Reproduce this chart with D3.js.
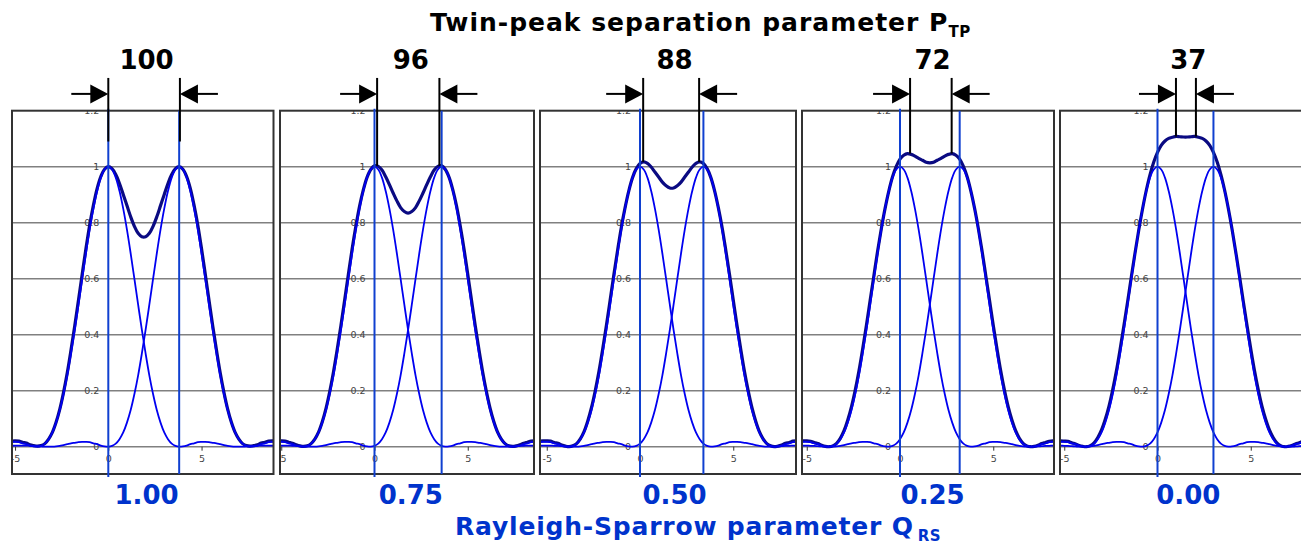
<!DOCTYPE html>
<html><head><meta charset="utf-8">
<script src="https://cdn.jsdelivr.net/npm/d3@7"></script>
<style>body{margin:0;background:#fff}svg{display:block}</style>
</head><body><svg id="c" width="1301" height="545"></svg>
<script>
// ---------- data ----------
const qLabels = ["1.00","0.75","0.50","0.25","0.00"];
const ptpLabels = ["100","96","88","72","37"];
const peakSeparation = [3.8, 3.6, 3.4, 3.2, 3.0];
const sumPeakLeft  = [0.00, 0.14, 0.17, 0.54, 0.99];
const sumPeakRight = [3.84, 3.48, 3.17, 2.77, 2.06];
const sumPeakLevel = [1.09, 1.003, 1.017, 1.047, 1.108];
const yTicks = [0, 0.2, 0.4, 0.6, 0.8, 1, 1.2];
const yTickLabels = ["0","0.2","0.4","0.6","0.8","1","1.2"];
const xTicks = [-5, 0, 5];
const xTickLabels = ["-5","0","5"];

// single-peak profile (offset from centre, intensity)
const profileOffset = [0,0.2,0.4,0.6,0.8,1.0,1.2,1.4,1.6,1.8,2.0,2.2,2.4,2.6,2.8,3.0,3.2,3.4,3.6,3.8,4.0,4.2,4.4,4.6,4.8,5.0,5.2,5.4,5.6,5.8,6.0,6.2,6.4,6.6,6.8,7.0,7.2,7.4,7.6,7.8,8.0,8.2,8.4,8.6,8.8,9.0,9.2];
const profileValue = [1.000,0.990,0.961,0.913,0.850,0.775,0.690,0.599,0.507,0.417,0.333,0.255,0.188,0.131,0.086,0.051,0.027,0.011,0.003,0.000,0.001,0.004,0.009,0.012,0.016,0.017,0.017,0.016,0.014,0.012,0.009,0.006,0.003,0.001,0.000,0.000,0.000,0.001,0.002,0.003,0.003,0.004,0.004,0.004,0.004,0.003,0.002];

// summed (twin-peak) curves
const sumX = [-5.4,-5.2,-5.0,-4.8,-4.6,-4.4,-4.2,-4.0,-3.8,-3.6,-3.4,-3.2,-3.0,-2.8,-2.6,-2.4,-2.2,-2.0,-1.8,-1.6,-1.4,-1.2,-1.0,-0.8,-0.6,-0.4,-0.2,0,0.2,0.4,0.6,0.8,1.0,1.2,1.4,1.6,1.8,2.0,2.2,2.4,2.6,2.8,3.0,3.2,3.4,3.6,3.8,4.0,4.2,4.4,4.6,4.8,5.0,5.2,5.4,5.6,5.8,6.0,6.2,6.4,6.6,6.8,7.0,7.2,7.4,7.6,7.8,8.0,8.2,8.4,8.6,8.8,9.0];
const sumQ100 = [0.018,0.020,0.021,0.020,0.016,0.013,0.007,0.004,0.002,0.004,0.011,0.027,0.051,0.087,0.134,0.194,0.264,0.345,0.431,0.523,0.616,0.707,0.791,0.862,0.922,0.965,0.991,1.000,0.993,0.972,0.940,0.901,0.861,0.821,0.787,0.762,0.750,0.750,0.762,0.787,0.821,0.861,0.901,0.940,0.972,0.993,1.000,0.991,0.965,0.922,0.862,0.791,0.707,0.616,0.523,0.431,0.345,0.264,0.194,0.134,0.087,0.051,0.027,0.011,0.004,0.002,0.004,0.007,0.013,0.016,0.020,0.021,0.020];
const sumQ075 = [0.019,0.021,0.021,0.020,0.016,0.012,0.007,0.003,0.001,0.003,0.011,0.027,0.052,0.089,0.137,0.197,0.267,0.347,0.433,0.524,0.616,0.706,0.787,0.859,0.917,0.962,0.990,1.003,1.001,0.988,0.964,0.936,0.906,0.878,0.854,0.840,0.834,0.840,0.854,0.878,0.906,0.936,0.964,0.988,1.001,1.003,0.990,0.962,0.917,0.859,0.787,0.706,0.616,0.524,0.433,0.347,0.267,0.197,0.137,0.089,0.052,0.027,0.011,0.003,0.001,0.003,0.007,0.012,0.016,0.020,0.021,0.021,0.019];
const sumQ050 = [0.020,0.021,0.021,0.020,0.015,0.012,0.006,0.002,0.000,0.003,0.011,0.028,0.054,0.092,0.140,0.200,0.269,0.349,0.434,0.524,0.615,0.702,0.784,0.854,0.914,0.961,0.993,1.011,1.017,1.012,0.999,0.981,0.963,0.945,0.932,0.924,0.924,0.932,0.945,0.963,0.981,0.999,1.012,1.017,1.011,0.993,0.961,0.914,0.854,0.784,0.702,0.615,0.524,0.434,0.349,0.269,0.200,0.140,0.092,0.054,0.028,0.011,0.003,0.000,0.002,0.006,0.012,0.015,0.020,0.021,0.021,0.020,0.017];
const sumQ025 = [0.020,0.021,0.021,0.019,0.015,0.011,0.005,0.001,0.000,0.003,0.012,0.030,0.057,0.095,0.143,0.202,0.271,0.350,0.434,0.523,0.611,0.699,0.779,0.851,0.913,0.964,1.001,1.027,1.041,1.047,1.044,1.038,1.030,1.023,1.016,1.014,1.016,1.023,1.030,1.038,1.044,1.047,1.041,1.027,1.001,0.964,0.913,0.851,0.779,0.699,0.611,0.523,0.434,0.350,0.271,0.202,0.143,0.095,0.057,0.030,0.012,0.003,0.000,0.001,0.005,0.011,0.015,0.019,0.021,0.021,0.020,0.018,0.015];
const sumQ000 = [0.020,0.021,0.020,0.019,0.014,0.010,0.004,0.001,0.000,0.004,0.014,0.033,0.060,0.098,0.145,0.204,0.272,0.350,0.433,0.519,0.608,0.694,0.776,0.850,0.916,0.972,1.017,1.051,1.076,1.092,1.101,1.105,1.108,1.107,1.106,1.106,1.107,1.108,1.105,1.101,1.092,1.076,1.051,1.017,0.972,0.916,0.850,0.776,0.694,0.608,0.519,0.433,0.350,0.272,0.204,0.145,0.098,0.060,0.033,0.014,0.004,0.000,0.001,0.004,0.010,0.014,0.019,0.020,0.021,0.020,0.018,0.016,0.012];
const sumSeries = [sumQ100, sumQ075, sumQ050, sumQ025, sumQ000];

// ---------- layout ----------
const panelLeft  = [12, 280, 540, 802, 1060];
const panelRight = [273.5, 534, 796, 1054, 1330];
const panelZero  = [108.3, 374.5, 640, 900, 1157.5];
const PX_PER_UNIT = 18.65;
const frameBottom = 474;
const markerTop = 1.317, arrowLevel = 1.26;

const svg = d3.select("#c");
const defs = svg.append("defs");
const yScale = d3.scaleLinear().domain([0, 1.2]).range([446.7, 110.7]);
const NAVY = "#0a0a82", BLUE = "#0000f0", VBLUE = "#1040d0", QBLUE = "#0033cc";
const FONT = "'DejaVu Sans', Verdana, sans-serif";

qLabels.forEach((q, i) => {
  const left = panelLeft[i], right = panelRight[i], zero = panelZero[i];
  const x = d3.scaleLinear()
    .domain([(left - zero) / PX_PER_UNIT, (right - zero) / PX_PER_UNIT])
    .range([left, right]);
  const top = yScale(1.2);
  const g = svg.append("g");
  defs.append("clipPath").attr("id", "clip" + i).append("rect")
    .attr("x", left).attr("y", top).attr("width", right - left).attr("height", frameBottom - top);
  const inner = g.append("g").attr("clip-path", `url(#clip${i})`);

  // grid lines
  inner.selectAll("line.grid").data(yTicks.filter(v => v < 1.2)).join("line")
    .attr("class", "grid")
    .attr("x1", left).attr("x2", right)
    .attr("y1", d => yScale(d)).attr("y2", d => yScale(d))
    .attr("stroke", "#808080").attr("stroke-width", 1.5);

  // y axis labels at x = 0
  const yAxis = d3.axisLeft(yScale).tickValues(yTicks)
    .tickFormat((d, k) => yTickLabels[k]).tickSize(0).tickPadding(9);
  const ya = inner.append("g").attr("transform", `translate(${x(0)},0)`).call(yAxis);
  ya.select(".domain").remove();
  ya.selectAll("text").attr("font-family", FONT).attr("font-size", 9.5).attr("fill", "#444");

  // x axis ticks on zero line
  const xAxis = d3.axisBottom(x).tickValues(xTicks)
    .tickFormat((d, k) => xTickLabels[k]).tickSize(4).tickPadding(5);
  const xa = inner.append("g").attr("transform", `translate(0,${yScale(0)})`).call(xAxis);
  xa.select(".domain").remove();
  xa.selectAll("line").attr("stroke", "#333").attr("stroke-width", 1);
  xa.selectAll("text").attr("font-family", FONT).attr("font-size", 9.5).attr("fill", "#444");

  const line = d3.line().x(d => x(d[0])).y(d => yScale(d[1]))
    .curve(d3.curveCatmullRom.alpha(0.5));

  // summed curve
  inner.append("path")
    .datum(sumX.map((v, k) => [v, sumSeries[i][k]]))
    .attr("d", line).attr("fill", "none")
    .attr("stroke", NAVY).attr("stroke-width", 3.2);

  // individual peaks
  [0, peakSeparation[i]].forEach(c => {
    const rightSide = profileOffset.map((o, k) => [c + o, profileValue[k]]);
    const leftSide = profileOffset.slice(1).map((o, k) => [c - o, profileValue[k + 1]]).reverse();
    inner.append("path").datum(leftSide.concat(rightSide))
      .attr("d", line).attr("fill", "none")
      .attr("stroke", BLUE).attr("stroke-width", 1.8);
  });

  // frame
  g.append("rect").attr("x", left).attr("y", top)
    .attr("width", right - left).attr("height", frameBottom - top)
    .attr("fill", "none").attr("stroke", "#333").attr("stroke-width", 2);

  // blue vertical lines at peak centres
  g.append("line").attr("x1", x(0)).attr("x2", x(0))
    .attr("y1", top - 2).attr("y2", frameBottom + 3)
    .attr("stroke", VBLUE).attr("stroke-width", 2);
  g.append("line").attr("x1", x(peakSeparation[i])).attr("x2", x(peakSeparation[i]))
    .attr("y1", top).attr("y2", frameBottom)
    .attr("stroke", VBLUE).attr("stroke-width", 2);

  // black markers of the summed maxima
  [sumPeakLeft[i], sumPeakRight[i]].forEach(v => {
    g.append("line").attr("x1", x(v)).attr("x2", x(v))
      .attr("y1", yScale(markerTop)).attr("y2", yScale(sumPeakLevel[i]))
      .attr("stroke", "#000").attr("stroke-width", 2);
  });
  const ya2 = yScale(arrowLevel);
  const xl = x(sumPeakLeft[i]), xr = x(sumPeakRight[i]);
  g.append("line").attr("x1", xl - 37).attr("x2", xl - 10).attr("y1", ya2).attr("y2", ya2)
    .attr("stroke", "#000").attr("stroke-width", 2);
  g.append("path").attr("d", `M${xl},${ya2}L${xl - 18},${ya2 - 9.5}L${xl - 18},${ya2 + 9.5}Z`).attr("fill", "#000");
  g.append("line").attr("x1", xr + 10).attr("x2", xr + 38).attr("y1", ya2).attr("y2", ya2)
    .attr("stroke", "#000").attr("stroke-width", 2);
  g.append("path").attr("d", `M${xr},${ya2}L${xr + 18},${ya2 - 9.5}L${xr + 18},${ya2 + 9.5}Z`).attr("fill", "#000");

  // labels
  const mid = x(peakSeparation[i] / 2 + 0.15);
  g.append("text").attr("x", mid).attr("y", 69).attr("text-anchor", "middle")
    .attr("font-family", FONT).attr("font-weight", "bold").attr("font-size", 26)
    .attr("fill", "#000").text(ptpLabels[i]);
  g.append("text").attr("x", mid).attr("y", 504).attr("text-anchor", "middle")
    .attr("font-family", FONT).attr("font-weight", "bold").attr("font-size", 26)
    .attr("fill", QBLUE).text(q);
});

// titles
const t = svg.append("text").attr("x", 430).attr("y", 31)
  .attr("font-family", FONT).attr("font-weight", "bold").attr("font-size", 25)
  .attr("letter-spacing", 1).attr("fill", "#000");
t.append("tspan").text("Twin-peak separation parameter P");
t.append("tspan").attr("dy", 6).attr("font-size", 15).attr("letter-spacing", 0.5).text("TP");

const b = svg.append("text").attr("x", 455).attr("y", 535)
  .attr("font-family", FONT).attr("font-weight", "bold").attr("font-size", 25)
  .attr("letter-spacing", 0.8).attr("fill", QBLUE);
b.append("tspan").text("Rayleigh-Sparrow parameter Q");
b.append("tspan").attr("dx", 4).attr("dy", 5.5).attr("font-size", 15).attr("letter-spacing", 0.5).text("RS");
</script>
</body></html>
